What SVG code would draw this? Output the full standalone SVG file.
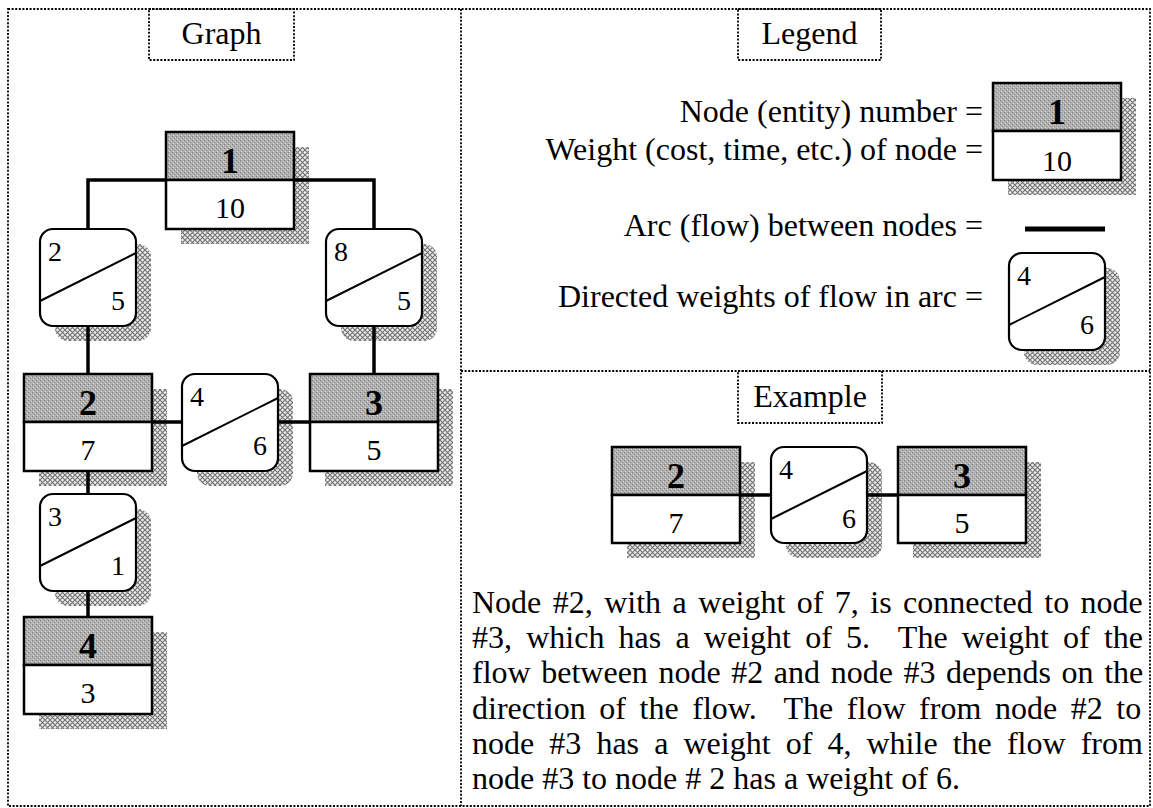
<svg xmlns="http://www.w3.org/2000/svg" width="1153" height="808" viewBox="0 0 1153 808">
<defs>
<pattern id="hatch" width="5" height="5" patternUnits="userSpaceOnUse">
<rect width="5" height="5" fill="#ececec"/>
<path d="M0,0 L5,5 M5,0 L0,5" stroke="#727272" stroke-width="1.1"/>
</pattern>
<pattern id="grain" width="4" height="4" patternUnits="userSpaceOnUse">
<rect width="4" height="4" fill="#b0b0b0"/>
<rect x="0" y="0" width="1" height="1" fill="#7a7a7a"/>
<rect x="2" y="2" width="1" height="1" fill="#888"/>
<rect x="1" y="3" width="1" height="1" fill="#d6d6d6"/>
<rect x="3" y="1" width="1" height="1" fill="#d0d0d0"/>
</pattern>
</defs>
<style>
.frame{fill:none;stroke:#000;stroke-width:1.8;stroke-dasharray:2 1.6}
.shadow{fill:url(#hatch)}
.top{fill:url(#grain);stroke:#000;stroke-width:2.5}
.bot{fill:#fff;stroke:#000;stroke-width:2.5}
.arc{fill:#fff;stroke:#000;stroke-width:2.2}
.diag{stroke:#000;stroke-width:2;fill:none}
.conn{stroke:#000;stroke-width:3.5;fill:none}
text{font-family:"Liberation Serif","Times New Roman",serif;fill:#000}
.lbl{font-size:32px;text-anchor:middle}
.num{font-size:36px;font-weight:bold;text-anchor:middle}
.wt{font-size:30px;text-anchor:middle}
.an{font-size:28px}
.ae{font-size:28px;text-anchor:end}
.leg{font-size:32px;text-anchor:end}
.para{font-size:32px}
</style>
<rect width="1153" height="808" fill="#fff"/>
<g id="frames">
<rect class="frame" x="8" y="9" width="1142" height="797"/>
<line class="frame" x1="461" y1="9" x2="461" y2="806"/>
<line class="frame" x1="461" y1="371" x2="1150" y2="371"/>
<rect class="frame" x="149" y="9" width="145" height="51"/>
<text class="lbl" x="221.5" y="44">Graph</text>
<rect class="frame" x="738" y="9" width="143" height="51"/>
<text class="lbl" x="809.5" y="44">Legend</text>
<rect class="frame" x="738" y="371" width="144" height="52"/>
<text class="lbl" x="810" y="407">Example</text>
</g>
<g id="node1">
<rect class="shadow" x="181" y="147" width="128" height="97"/>
<rect class="top" x="166" y="132" width="128" height="48"/>
<rect class="bot" x="166" y="180" width="128" height="49"/>
<text class="num" x="230" y="173">1</text>
<text class="wt" x="230" y="218">10</text>
</g>
<g id="node2">
<rect class="shadow" x="39" y="389" width="128" height="97"/>
<rect class="top" x="24" y="374" width="128" height="48"/>
<rect class="bot" x="24" y="422" width="128" height="49"/>
<text class="num" x="88" y="415">2</text>
<text class="wt" x="88" y="460">7</text>
</g>
<g id="node3">
<rect class="shadow" x="325" y="389" width="128" height="97"/>
<rect class="top" x="310" y="374" width="128" height="48"/>
<rect class="bot" x="310" y="422" width="128" height="49"/>
<text class="num" x="374" y="415">3</text>
<text class="wt" x="374" y="460">5</text>
</g>
<g id="node4">
<rect class="shadow" x="39" y="632" width="128" height="97"/>
<rect class="top" x="24" y="617" width="128" height="48"/>
<rect class="bot" x="24" y="665" width="128" height="49"/>
<text class="num" x="88" y="658">4</text>
<text class="wt" x="88" y="703">3</text>
</g>
<g id="arc-1-2">
<rect class="shadow" x="55" y="244" width="96" height="97" rx="13"/>
<rect class="arc" x="40" y="229" width="96" height="97" rx="13"/>
<line class="diag" x1="40" y1="301" x2="136" y2="253"/>
<text class="an" x="48" y="261">2</text>
<text class="ae" x="125" y="310">5</text>
</g>
<g id="arc-1-3">
<rect class="shadow" x="341" y="244" width="96" height="97" rx="13"/>
<rect class="arc" x="326" y="229" width="96" height="97" rx="13"/>
<line class="diag" x1="326" y1="301" x2="422" y2="253"/>
<text class="an" x="334" y="261">8</text>
<text class="ae" x="411" y="310">5</text>
</g>
<g id="arc-2-3">
<rect class="shadow" x="197" y="389" width="96" height="97" rx="13"/>
<rect class="arc" x="182" y="374" width="96" height="97" rx="13"/>
<line class="diag" x1="182" y1="446" x2="278" y2="398"/>
<text class="an" x="190" y="406">4</text>
<text class="ae" x="267" y="455">6</text>
</g>
<g id="arc-2-4">
<rect class="shadow" x="55" y="509" width="96" height="97" rx="13"/>
<rect class="arc" x="40" y="494" width="96" height="97" rx="13"/>
<line class="diag" x1="40" y1="566" x2="136" y2="518"/>
<text class="an" x="48" y="526">3</text>
<text class="ae" x="125" y="575">1</text>
</g>
<g id="legend-node">
<rect class="shadow" x="1008" y="98" width="128" height="97"/>
<rect class="top" x="993" y="83" width="128" height="48"/>
<rect class="bot" x="993" y="131" width="128" height="49"/>
<text class="num" x="1057" y="124">1</text>
<text class="wt" x="1057" y="171">10</text>
</g>
<g id="legend-arc">
<rect class="shadow" x="1024" y="268" width="96" height="97" rx="13"/>
<rect class="arc" x="1009" y="253" width="96" height="97" rx="13"/>
<line class="diag" x1="1009" y1="325" x2="1105" y2="277"/>
<text class="an" x="1017" y="285">4</text>
<text class="ae" x="1094" y="334">6</text>
</g>
<g id="legend-text">
<text class="leg" x="983" y="122">Node (entity) number =</text>
<text class="leg" x="983" y="160">Weight (cost, time, etc.) of node =</text>
<text class="leg" x="983" y="236">Arc (flow) between nodes =</text>
<text class="leg" x="983" y="307">Directed weights of flow in arc =</text>
</g>
<g id="example-node2">
<rect class="shadow" x="627" y="462" width="128" height="96"/>
<rect class="top" x="612" y="447" width="128" height="48"/>
<rect class="bot" x="612" y="495" width="128" height="48"/>
<text class="num" x="676" y="488">2</text>
<text class="wt" x="676" y="533">7</text>
</g>
<g id="example-arc">
<rect class="shadow" x="786" y="462" width="96" height="96" rx="13"/>
<rect class="arc" x="771" y="447" width="96" height="96" rx="13"/>
<line class="diag" x1="771" y1="519" x2="867" y2="471"/>
<text class="an" x="779" y="479">4</text>
<text class="ae" x="856" y="528">6</text>
</g>
<g id="example-node3">
<rect class="shadow" x="913" y="462" width="128" height="96"/>
<rect class="top" x="898" y="447" width="128" height="48"/>
<rect class="bot" x="898" y="495" width="128" height="48"/>
<text class="num" x="962" y="488">3</text>
<text class="wt" x="962" y="533">5</text>
</g>
<g id="connectors">
<path class="conn" d="M88,229 V180 H166"/>
<path class="conn" d="M294,180 H374 V229"/>
<path class="conn" d="M88,326 V374"/>
<path class="conn" d="M374,326 V374"/>
<path class="conn" d="M152,422 H182"/>
<path class="conn" d="M278,422 H310"/>
<path class="conn" d="M88,471 V494"/>
<path class="conn" d="M88,591 V617"/>
<path class="conn" d="M740,495 H771"/>
<path class="conn" d="M867,495 H898"/>
<path class="conn" d="M1025,229 H1105" style="stroke-width:5"/>
</g>
<g id="example-text">
<text class="para" x="472" y="613" style="word-spacing:3.45px">Node #2, with a weight of 7, is connected to node</text>
<text class="para" x="472" y="648.2" xml:space="preserve" style="word-spacing:6.2px">#3, which has a weight of 5.  The weight of the</text>
<text class="para" x="472" y="683.4" style="word-spacing:2.6px">flow between node #2 and node #3 depends on the</text>
<text class="para" x="472" y="718.6" xml:space="preserve" style="word-spacing:5.6px">direction of the flow.  The flow from node #2 to</text>
<text class="para" x="472" y="753.8" style="word-spacing:7.1px">node #3 has a weight of 4, while the flow from</text>
<text class="para" x="472" y="789">node #3 to node # 2 has a weight of 6.</text>
</g>
</svg>
